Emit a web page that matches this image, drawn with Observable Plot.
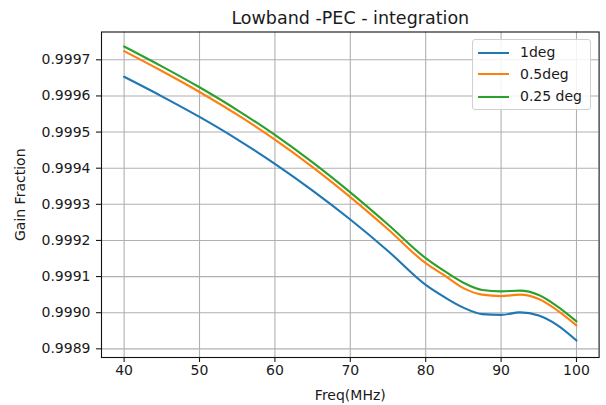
<!DOCTYPE html>
<html>
<head>
<meta charset="utf-8">
<script src="https://cdn.jsdelivr.net/npm/d3@7"></script>
<script src="https://cdn.jsdelivr.net/npm/@observablehq/plot@0.6"></script>
<style>
  body { margin: 0; background: #fff; }
  #wrap { position: relative; width: 606px; height: 405px; font-family: "DejaVu Sans", sans-serif; color: #1a1a1a; }
  #legend { position: absolute; left: 472px; top: 39px; width: 119px; height: 71px; box-sizing: border-box;
            border: 1px solid #d0d0d0; border-radius: 3px; background: rgba(255,255,255,0.85); }
  .swatch { position: absolute; left: 5px; width: 31px; height: 2px; }
  .lab { position: absolute; left: 47px; font-size: 14px; line-height: 16px; white-space: nowrap; color: #1a1a1a; }
</style>
</head>
<body>
<div id="wrap"></div>
<script>
const title = "Lowband -PEC - integration";
const xLabel = "Freq(MHz)";
const yLabel = "Gain Fraction";
const seriesNames = ["1deg", "0.5deg", "0.25 deg"];
const seriesColors = ["#1f77b4", "#ff7f0e", "#2ca02c"];
const freq = [40, 45, 50, 55, 60, 65, 70, 75, 80, 82.5, 85, 87.5, 90, 92.5, 95, 97.5, 100];
const gain1deg = [0.999653, 0.999599, 0.999542, 0.999480, 0.999412, 0.999338, 0.999258, 0.999171, 0.999077, 0.999043, 0.999014, 0.998996, 0.998994, 0.999001, 0.998992, 0.998965, 0.998923];
const gain05deg = [0.999724, 0.999669, 0.999611, 0.999548, 0.999479, 0.999403, 0.999320, 0.999231, 0.999137, 0.999103, 0.999068, 0.999050, 0.999046, 0.999050, 0.999038, 0.999006, 0.998965];
const gain025deg = [0.999737, 0.999682, 0.999624, 0.999561, 0.999492, 0.999416, 0.999333, 0.999244, 0.999151, 0.999115, 0.999083, 0.999063, 0.999059, 0.999061, 0.999049, 0.999017, 0.998976];
const xTicks = [40, 50, 60, 70, 80, 90, 100];
const yTicks = [0.9989, 0.9990, 0.9991, 0.9992, 0.9993, 0.9994, 0.9995, 0.9996, 0.9997];

const seriesValues = [gain1deg, gain05deg, gain025deg];
const table = [];
seriesNames.forEach((name, i) => {
  freq.forEach((f, j) => table.push({series: name, freq: f, gain: seriesValues[i][j]}));
});

const gridStyle = {stroke: "#b0b0b0", strokeOpacity: 1, strokeWidth: 1.1};

const chart = Plot.plot({
  width: 606,
  height: 405,
  marginLeft: 101,
  marginRight: 7.4,
  marginTop: 31.5,
  marginBottom: 48,
  style: {fontFamily: "DejaVu Sans, sans-serif", fontSize: "14px", color: "#1a1a1a", background: "transparent"},
  x: {domain: [37, 103]},
  y: {domain: [0.998876, 0.999777]},
  color: {domain: seriesNames, range: seriesColors},
  marks: [
    Plot.gridX({ticks: xTicks, ...gridStyle}),
    Plot.gridY({ticks: yTicks, ...gridStyle}),
    Plot.line(table, {x: "freq", y: "gain", stroke: "series", strokeWidth: 2.1, curve: "monotone-x"}),
    Plot.frame({stroke: "#111", strokeWidth: 1.1}),
    Plot.axisX({ticks: xTicks, tickSize: 5, tickPadding: 3, strokeWidth: 1.1, label: xLabel, labelAnchor: "center", labelOffset: 42, labelArrow: "none"}),
    Plot.axisY({ticks: yTicks, tickFormat: d3.format(".4f"), tickSize: 5, tickPadding: 6, strokeWidth: 1.1, label: yLabel, labelAnchor: "center", labelOffset: 86, labelArrow: "none"}),
    Plot.text([title], {frameAnchor: "top", lineAnchor: "middle", dy: -13.8, fontSize: 17.5, fill: "#1a1a1a"})
  ]
});

const wrap = document.getElementById("wrap");
wrap.appendChild(chart);

const legend = document.createElement("div");
legend.id = "legend";
const rowCenters = [12.5, 34.3, 56.5];
seriesNames.forEach((name, i) => {
  const sw = document.createElement("div");
  sw.className = "swatch";
  sw.style.top = (rowCenters[i] - 1) + "px";
  sw.style.background = seriesColors[i];
  legend.appendChild(sw);
  const lab = document.createElement("div");
  lab.className = "lab";
  lab.style.top = (rowCenters[i] - 8.5) + "px";
  lab.textContent = name;
  legend.appendChild(lab);
});
wrap.appendChild(legend);
</script>
</body>
</html>
